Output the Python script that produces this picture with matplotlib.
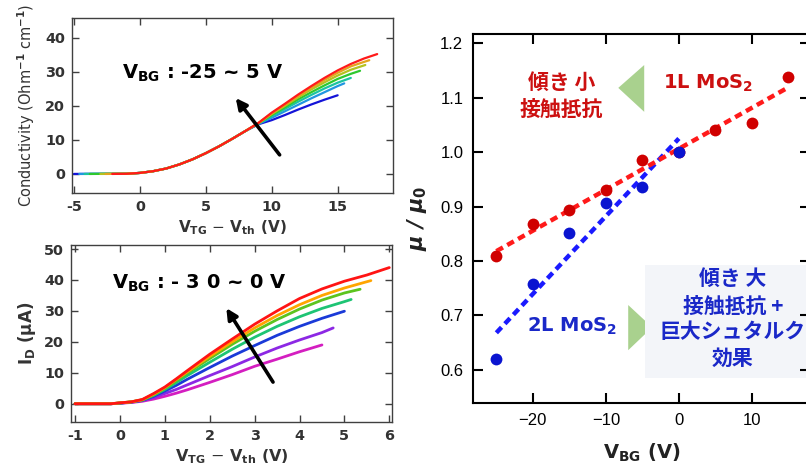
import matplotlib
matplotlib.use("Agg")
import matplotlib.pyplot as plt
from matplotlib.patches import Polygon, Rectangle

# ---------------- data ----------------
# Top-left: conductivity vs V_TG - V_th, V_BG = -25 ... 5 V
cond_colors = ["#1414d8", "#2196e0", "#1cc4a0", "#2ec82e", "#b4c21e", "#e4a41e", "#ff1a1a"]
cond_start_x = [-5.0, -4.6, -4.2, -3.8, -3.0, -2.6, -2.1]
cond_low_x = [-1, 0, 1, 2, 3, 4, 5, 6, 7, 8]
cond_low_y = [0.05, 0.3, 0.8, 1.6, 2.8, 4.3, 6.1, 8.1, 10.3, 12.6]
cond_tail_x = [
    [9, 10, 11, 12, 13, 14, 15],
    [9, 10, 11, 12, 13, 14, 15, 15.5],
    [9, 10, 11, 12, 13, 14, 15, 16],
    [9, 10, 11, 12, 13, 14, 15, 16, 16.7],
    [9, 10, 11, 12, 13, 14, 15, 16, 17.1],
    [9, 10, 11, 12, 13, 14, 15, 16, 17, 17.4],
    [9, 10, 11, 12, 13, 14, 15, 16, 17, 18],
]
cond_tail_y = [
    [14.6, 15.8, 17.3, 18.9, 20.4, 21.8, 23.1],
    [14.7, 16.5, 18.4, 20.3, 22.2, 24.0, 25.8, 26.6],
    [14.8, 17.0, 19.1, 21.2, 23.2, 25.1, 26.8, 28.2],
    [14.9, 17.3, 19.6, 21.9, 24.0, 26.0, 27.9, 29.4, 30.3],
    [14.9, 17.6, 20.0, 22.5, 24.8, 26.9, 28.9, 30.6, 32.0],
    [15.0, 17.8, 20.3, 22.9, 25.3, 27.6, 29.7, 31.6, 32.9, 33.4],
    [15.0, 18.0, 20.6, 23.3, 25.8, 28.2, 30.4, 32.3, 33.9, 35.2],
]
cond_xticks = [-5, 0, 5, 10, 15]
cond_xticklabels = ["-5", "0", "5", "10", "15"]
cond_yticks = [0, 10, 20, 30, 40]

# Bottom-left: I_D vs V_TG - V_th, V_BG = -30 ... 0 V
id_colors = ["#d41ec0", "#8c28e4", "#1a3ad8", "#1ec474", "#5cc41e", "#ffa500", "#ff1414"]
id_x = [
    [-1, -0.2, 0, 0.25, 0.5, 0.75, 1, 1.25, 1.5, 2, 2.5, 3, 3.5, 4, 4.5],
    [-1, -0.2, 0, 0.25, 0.5, 0.75, 1, 1.25, 1.5, 2, 2.5, 3, 3.5, 4, 4.5, 4.75],
    [-1, -0.2, 0, 0.25, 0.5, 0.75, 1, 1.25, 1.5, 2, 2.5, 3, 3.5, 4, 4.5, 5],
    [-1, -0.2, 0, 0.25, 0.5, 0.75, 1, 1.25, 1.5, 2, 2.5, 3, 3.5, 4, 4.5, 5, 5.15],
    [-1, -0.2, 0, 0.25, 0.5, 0.75, 1, 1.25, 1.5, 2, 2.5, 3, 3.5, 4, 4.5, 5, 5.35],
    [-1, -0.2, 0, 0.25, 0.5, 0.75, 1, 1.25, 1.5, 2, 2.5, 3, 3.5, 4, 4.5, 5, 5.59],
    [-1, -0.2, 0, 0.25, 0.5, 0.75, 1, 1.25, 1.5, 2, 2.5, 3, 3.5, 4, 4.5, 5, 5.5, 6],
]
id_y = [
    [0, 0, 0.15, 0.4, 0.8, 1.5, 2.4, 3.4, 4.5, 6.9, 9.4, 12.1, 14.4, 16.8, 19.0],
    [0, 0, 0.2, 0.5, 1.0, 2.0, 3.3, 4.6, 6.1, 9.1, 12.0, 15.1, 18.0, 20.6, 23.0, 24.5],
    [0, 0, 0.2, 0.55, 1.1, 2.4, 4.1, 5.9, 7.9, 11.7, 15.4, 18.8, 22.1, 25.0, 27.6, 29.9],
    [0, 0, 0.25, 0.6, 1.2, 2.7, 4.6, 6.8, 9.1, 13.4, 17.6, 21.5, 25.0, 28.1, 30.8, 33.0, 33.7],
    [0, 0, 0.25, 0.6, 1.25, 2.9, 5.0, 7.4, 9.9, 14.6, 19.2, 23.4, 27.2, 30.6, 33.5, 35.8, 37.0],
    [0, 0, 0.3, 0.6, 1.3, 3.1, 5.2, 7.8, 10.3, 15.3, 20.0, 24.5, 28.5, 32.0, 35.0, 37.4, 39.8],
    [0, 0, 0.3, 0.6, 1.4, 3.3, 5.4, 8.0, 10.7, 16.0, 20.9, 25.7, 30.0, 34.0, 37.1, 39.6, 41.6, 44.0],
]
id_xticks = [-1, 0, 1, 2, 3, 4, 5, 6]
id_xticklabels = ["-1", "0", "1", "2", "3", "4", "5", "6"]
id_yticks = [0, 10, 20, 30, 40, 50]

# Right: mu/mu0 vs V_BG
vbg_1l = [-25, -20, -15, -10, -5, 0, 5, 10, 15]
mu_1l = [0.810, 0.868, 0.893, 0.930, 0.986, 1.000, 1.041, 1.054, 1.138]
vbg_2l = [-25, -20, -15, -10, -5, 0]
mu_2l = [0.620, 0.758, 0.851, 0.907, 0.935, 1.000]
fit_1l_x = [-25, 15]
fit_1l_y = [0.818, 1.119]
fit_2l_x = [-25, 0]
fit_2l_y = [0.668, 1.025]
mu_xticks = [-20, -10, 0, 10]
mu_xticklabels = ["\u221220", "\u221210", "0", "10"]
mu_yticks = [0.6, 0.7, 0.8, 0.9, 1.0, 1.1, 1.2]
mu_yticklabels = ["0.6", "0.7", "0.8", "0.9", "1.0", "1.1", "1.2"]

# ---------------- figure ----------------
plt.rcParams["font.family"] = ["DejaVu Sans"]
plt.rcParams["axes.unicode_minus"] = False
W, H = 806, 465
fig = plt.figure(figsize=(W / 100, H / 100), dpi=100)

def px_axes(l, t, r, b):
    return fig.add_axes([l / W, 1 - b / H, (r - l) / W, (b - t) / H])

frame_c = "#404040"
tick_c = "#333333"
jp = ["Noto Sans CJK JP", "DejaVu Sans"]

def style_left(ax):
    for s in ax.spines.values():
        s.set_color(frame_c)
        s.set_linewidth(1.0)
    ax.tick_params(direction="in", length=5, width=1.0, colors=frame_c,
                   top=True, right=True, labelsize=10.4, labelcolor=tick_c, pad=5)
    for lab in ax.get_xticklabels() + ax.get_yticklabels():
        lab.set_fontweight("bold")

# ---- top-left ----
ax1 = px_axes(72, 18, 393, 193)
for i in range(len(cond_colors)):
    xs = [cond_start_x[i]] + cond_low_x + cond_tail_x[i]
    ys = [0.0] + cond_low_y + cond_tail_y[i]
    ax1.plot(xs, ys, color=cond_colors[i], lw=1.6, solid_capstyle="round")
ax1.set_xlim(-5.15, 19.2)
ax1.set_ylim(-5.6, 45.8)
ax1.set_xticks(cond_xticks)
ax1.set_xticklabels(cond_xticklabels)
ax1.set_yticks(cond_yticks)
style_left(ax1)
ax1.set_xlabel(r"V$_\mathbf{TG}$ $-$ V$_\mathbf{th}$ (V)", fontsize=11, fontweight="bold",
               color=tick_c, labelpad=3)
ax1.set_ylabel(r"Conductivity (Ohm$^{\mathbf{-1}}$ cm$^{\mathbf{-1}}$)", fontsize=10.5,
               color=tick_c, labelpad=6)
ax1.text(-1.36, 27.9, r"V$_\mathbf{BG}$ : -25 ~ 5 V", fontsize=14, fontweight="bold",
         color="black", va="baseline", ha="left")
ax1.annotate("", xy=(7.27, 22.3), xytext=(10.6, 5.6),
             arrowprops=dict(arrowstyle="-|>", lw=2.6, color="black", mutation_scale=16,
                             shrinkA=0, shrinkB=0))

# ---- bottom-left ----
ax2 = px_axes(71, 245, 392, 422)
for i in range(len(id_colors)):
    ax2.plot(id_x[i], id_y[i], color=id_colors[i], lw=2.0, solid_capstyle="round")
ax2.set_xlim(-1.09, 6.06)
ax2.set_ylim(-5.9, 51.3)
ax2.set_xticks(id_xticks)
ax2.set_xticklabels(id_xticklabels)
ax2.set_yticks(id_yticks)
style_left(ax2)
ax2.set_xlabel(r"V$_\mathbf{TG}$ $-$ V$_\mathbf{th}$ (V)", fontsize=11.5, fontweight="bold",
               color=tick_c, labelpad=3)
ax2.set_ylabel(r"I$_\mathbf{D}$ (μA)", fontsize=12, fontweight="bold", color=tick_c, labelpad=4)
ax2.text(-0.18, 37.1, r"V$_\mathbf{BG}$ : - 3 0 ~ 0 V", fontsize=14, fontweight="bold",
         color="black", va="baseline", ha="left")
ax2.annotate("", xy=(2.37, 30.9), xytext=(3.41, 7.0),
             arrowprops=dict(arrowstyle="-|>", lw=2.6, color="black", mutation_scale=16,
                             shrinkA=0, shrinkB=0))

# ---- right ----
ax3 = px_axes(473, 34, 810, 403)
ax3.set_xlim(-28.2, 17.96)
ax3.set_ylim(0.539, 1.217)
ax3.plot(fit_2l_x, fit_2l_y, color="#1a1aff", lw=3.2, dashes=(1.7, 1.1), zorder=2)
ax3.plot(fit_1l_x, fit_1l_y, color="#ff1a1a", lw=3.2, dashes=(1.7, 1.1), zorder=2)
ax3.plot(vbg_1l, mu_1l, "o", color="#d00000", ms=8.5, mec="none", zorder=3)
ax3.plot(vbg_2l, mu_2l, "o", color="#0a14d0", ms=8.5, mec="none", zorder=4)
ax3.set_xticks(mu_xticks)
ax3.set_xticklabels(mu_xticklabels)
ax3.set_yticks(mu_yticks)
ax3.set_yticklabels(mu_yticklabels)
for s in ax3.spines.values():
    s.set_color("black")
    s.set_linewidth(1.5)
ax3.tick_params(direction="in", length=7, width=1.5, top=True, right=True,
                labelsize=12, pad=7)
for lab in ax3.get_xticklabels() + ax3.get_yticklabels():
    lab.set_fontfamily("Liberation Sans")
ax3.set_xlabel(r"V$_\mathbf{BG}$ (V)", fontsize=14, fontweight="bold", color="#222222",
               labelpad=10)
ax3.set_ylabel(r"μ / μ$_\mathbf{0}$", fontsize=15, fontweight="bold", fontstyle="italic",
               color="#222222", labelpad=8)

# annotations
red_t = "#cc1010"
blue_t = "#1a28c8"
ax3.text(-16.1, 1.128, "傾き 小", family=jp, fontsize=15, fontweight="bold",
         color=red_t, ha="center", va="center")
ax3.text(-16.1, 1.079, "接触抵抗", family=jp, fontsize=15, fontweight="bold",
         color=red_t, ha="center", va="center")
ax3.add_patch(Polygon([(-8.3, 1.118), (-4.75, 1.160), (-4.75, 1.074)],
                      closed=True, color="#a9d18e", lw=0))
ax3.text(4.0, 1.127, r"1L MoS$_\mathbf{2}$", fontsize=14, fontweight="bold",
         color=red_t, ha="center", va="center")
ax3.text(-14.6, 0.679, r"2L MoS$_\mathbf{2}$", fontsize=14, fontweight="bold",
         color=blue_t, ha="center", va="center")
ax3.add_patch(Polygon([(-6.94, 0.719), (-6.94, 0.636), (-3.65, 0.678)],
                      closed=True, color="#a9d18e", lw=0))
ax3.add_patch(Rectangle((-4.6, 0.585), 24, 0.207, color="#f3f5f9", lw=0, zorder=1.5))
for txt, yy in [("傾き 大", 0.7677), ("接触抵抗 +", 0.7163), ("巨大シュタルク", 0.670),
                ("効果", 0.622)]:
    ax3.text(7.4, yy, txt, family=jp, fontsize=15, fontweight="bold", color=blue_t,
             ha="center", va="center", zorder=5)

fig.savefig("out.png", dpi=100)
